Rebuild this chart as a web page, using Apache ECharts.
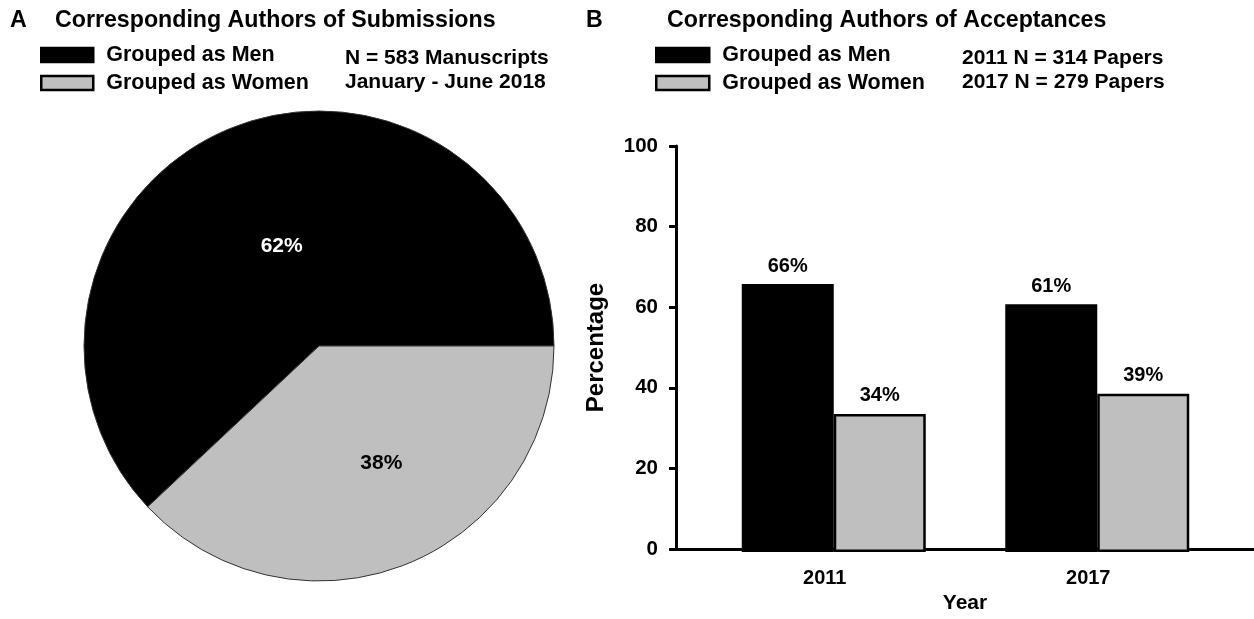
<!DOCTYPE html>
<html>
<head>
<meta charset="utf-8">
<script src="https://cdn.jsdelivr.net/npm/echarts@6/dist/echarts.min.js"></script>
<style>
  html, body { margin: 0; padding: 0; background: #fff; }
  #chart { width: 1254px; height: 619px; }
</style>
</head>
<body>
<div id="chart"></div>
<script>
// Panel A: share of submissions by corresponding-author gender
const groupNames = ['Grouped as Men', 'Grouped as Women'];
const submissionShare = [62, 38];

// Panel B: share of accepted papers per year
const years = ['2011', '2017'];
const menShare = [66, 61];
const womenShare = [34, 39];

// Percentage axis
const pctMin = 0;
const pctMax = 100;
const pctStep = 20;

const FONT = '"Liberation Sans", Arial, Helvetica, sans-serif';
const BLACK = '#000000';
const GREY = '#bfbfbf';

// nudges for the in-slice percentage labels
const pieLabelNudge = [[7, 12], [18, 5]];

const chart = echarts.init(document.getElementById('chart'), null, { renderer: 'canvas' });

const boldText = (size, extra) => Object.assign({
  fontFamily: FONT, fontWeight: 'bold', fontSize: size, color: BLACK
}, extra || {});

const option = {
  backgroundColor: '#ffffff',
  animation: false,
  title: [
    { text: 'A', left: 10, top: 9, padding: 0, textStyle: boldText(23.2) },
    { text: 'Corresponding Authors of Submissions', left: 55, top: 9, padding: 0, textStyle: boldText(23.2) },
    { text: 'N = 583 Manuscripts\nJanuary - June 2018', left: 345, top: 46, padding: 0,
      textStyle: boldText(21, { lineHeight: 24 }) },
    { text: 'B', left: 586, top: 9, padding: 0, textStyle: boldText(23.2) },
    { text: 'Corresponding Authors of Acceptances', left: 667, top: 9, padding: 0, textStyle: boldText(23.2) },
    { text: '2011 N = 314 Papers\n2017 N = 279 Papers', left: 962, top: 46, padding: 0,
      textStyle: boldText(21, { lineHeight: 24 }) }
  ],
  legend: [
    {
      data: groupNames, orient: 'vertical', left: 40, top: 44, padding: 0,
      itemWidth: 52, itemHeight: 14, itemGap: 6, icon: 'rect', selectedMode: false,
      itemStyle: { borderColor: BLACK, borderWidth: 2.5 },
      textStyle: boldText(21.5, { lineHeight: 22, padding: [0, 0, 0, 8] })
    },
    {
      data: groupNames, orient: 'vertical', left: 655, top: 44, padding: 0,
      itemWidth: 53, itemHeight: 14, itemGap: 6, icon: 'rect', selectedMode: false,
      itemStyle: { borderColor: BLACK, borderWidth: 2.5 },
      textStyle: boldText(21.5, { lineHeight: 22, padding: [0, 0, 0, 8] })
    }
  ],
  grid: [
    // frame grid: carries the percentage axis and the full-width baseline
    { left: 676, right: 0, top: 146, bottom: 67, containLabel: false },
    // bar grid: category bands for the two years
    { left: 702, width: 527, top: 146, bottom: 67, containLabel: false }
  ],
  xAxis: [
    {
      gridIndex: 0, type: 'value', min: 0, max: 1,
      axisLine: { show: true, lineStyle: { color: BLACK, width: 3 } },
      axisTick: { show: false }, axisLabel: { show: false }, splitLine: { show: false },
      name: 'Year', nameLocation: 'middle', nameGap: 44,
      nameTextStyle: boldText(21)
    },
    {
      gridIndex: 1, type: 'category', data: years,
      axisLine: { show: false }, axisTick: { show: false },
      axisLabel: boldText(20, { margin: 16, padding: [0, 18, 0, 0] })
    }
  ],
  yAxis: [
    {
      gridIndex: 0, type: 'value', min: pctMin, max: pctMax, interval: pctStep,
      axisLine: { show: true, lineStyle: { color: BLACK, width: 3 } },
      axisTick: { show: true, length: 7, lineStyle: { color: BLACK, width: 3 } },
      axisLabel: boldText(20.5, { margin: 18 }),
      splitLine: { show: false },
      name: 'Percentage', nameLocation: 'middle', nameGap: 68, nameRotate: 90,
      nameTextStyle: boldText(24)
    },
    {
      gridIndex: 1, type: 'value', min: pctMin, max: pctMax, show: false
    }
  ],
  series: [
    {
      type: 'pie',
      center: [319, 346],
      radius: 235,
      startAngle: 0,
      clockwise: false,
      silent: true,
      labelLine: { show: false },
      itemStyle: { borderColor: '#333333', borderWidth: 1 },
      label: {
        show: true, position: 'inside', formatter: '{c}%',
        fontFamily: FONT, fontWeight: 'bold', fontSize: 21
      },
      labelLayout: function (params) {
        const n = pieLabelNudge[params.dataIndex] || [0, 0];
        return { dx: n[0], dy: n[1] };
      },
      data: groupNames.map((name, i) => ({
        name: name,
        value: submissionShare[i],
        itemStyle: { color: i === 0 ? BLACK : GREY },
        label: { color: i === 0 ? '#ffffff' : BLACK }
      }))
    },
    {
      name: groupNames[0], type: 'bar', xAxisIndex: 1, yAxisIndex: 1,
      barWidth: 92, barGap: '0%',
      itemStyle: { color: BLACK, borderColor: BLACK, borderWidth: 0 },
      label: { show: true, position: 'top', distance: 8, formatter: '{c}%', ...boldText(20) },
      data: menShare
    },
    {
      name: groupNames[1], type: 'bar', xAxisIndex: 1, yAxisIndex: 1,
      barWidth: 92, barGap: '0%',
      itemStyle: { color: GREY, borderColor: BLACK, borderWidth: 2.5 },
      label: { show: true, position: 'top', distance: 8, formatter: '{c}%', ...boldText(20) },
      data: womenShare
    }
  ]
};

chart.setOption(option);
</script>
</body>
</html>
